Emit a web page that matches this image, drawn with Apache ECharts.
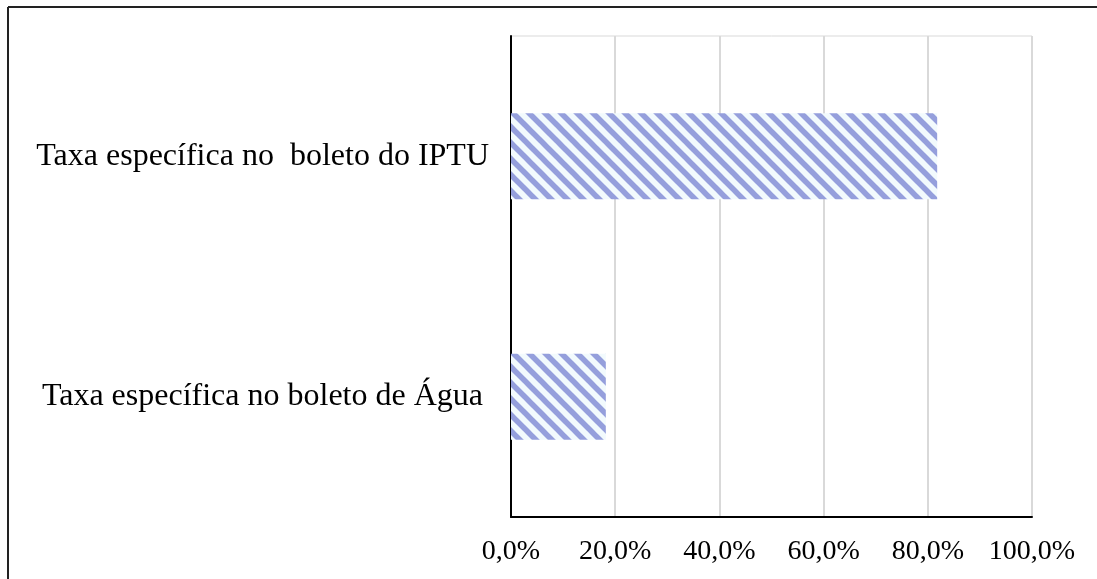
<!DOCTYPE html>
<html style="height: 100%">
<head>
    <meta charset="utf-8">
    <script type="text/javascript" src="https://cdn.jsdelivr.net/npm/echarts@6.0.0/dist/echarts.min.js"></script>
</head>
<body style="height: 100%; margin: 0; background-color: #ffffff;">
    <div id="main" style="width: 1097px; height: 579px;"></div>
<script>
var categories = ['Taxa específica no boleto de Água', 'Taxa específica no  boleto do IPTU'];
var values = [18.2, 81.8];
var tickMin = 0, tickMax = 100, tickStep = 20;

// hatch fill: diagonal "\" stripes
function makeHatch() {
    var c = document.createElement('canvas');
    c.width = 16; c.height = 16;
    var ctx = c.getContext('2d');
    ctx.fillStyle = '#f2fafd';
    ctx.fillRect(0, 0, 16, 16);
    ctx.strokeStyle = '#959fdc';
    ctx.lineWidth = 5.5;
    for (var x = -16; x <= 16; x += 16) {
        ctx.beginPath();
        ctx.moveTo(x - 2, -2);
        ctx.lineTo(x + 18, 18);
        ctx.stroke();
    }
    return c;
}

var chartDom = document.getElementById('main');
var myChart = echarts.init(chartDom);
var font = 'Liberation Serif';

var option = {
    animation: false,
    grid: {
        left: 511, right: 65, top: 36, bottom: 62,
        show: true,
        borderColor: '#d9d9d9',
        borderWidth: 1
    },
    xAxis: {
        type: 'value',
        min: tickMin, max: tickMax, interval: tickStep,
        axisLine: { show: true, lineStyle: { color: '#000', width: 2 } },
        axisTick: { show: false },
        splitLine: { lineStyle: { color: '#d9d9d9', width: 2 } },
        axisLabel: {
            margin: 21,
            fontFamily: font, fontSize: 28, color: '#000',
            formatter: function (v) { return v.toFixed(1).replace('.', ',') + '%'; }
        }
    },
    yAxis: {
        type: 'category',
        data: categories.map(function (name, i) {
            // the Água label sits a little further from the axis
            return i === 0 ? { value: name, textStyle: { padding: [0, 6, 0, 0] } } : name;
        }),
        axisLine: { show: true, lineStyle: { color: '#000', width: 2 } },
        axisTick: { show: false },
        axisLabel: { margin: 22, fontFamily: font, fontSize: 32, color: '#000' }
    },
    series: [{
        type: 'bar',
        data: values,
        barWidth: 86,
        itemStyle: { color: { image: makeHatch(), repeat: 'repeat' } }
    }],
    graphic: [
        { type: 'line', shape: { x1: 8, y1: 7, x2: 1097, y2: 7 }, style: { stroke: '#222', lineWidth: 2 } },
        { type: 'line', shape: { x1: 8, y1: 7, x2: 8, y2: 579 }, style: { stroke: '#222', lineWidth: 2 } }
    ]
};

myChart.setOption(option);
</script>
</body>
</html>
